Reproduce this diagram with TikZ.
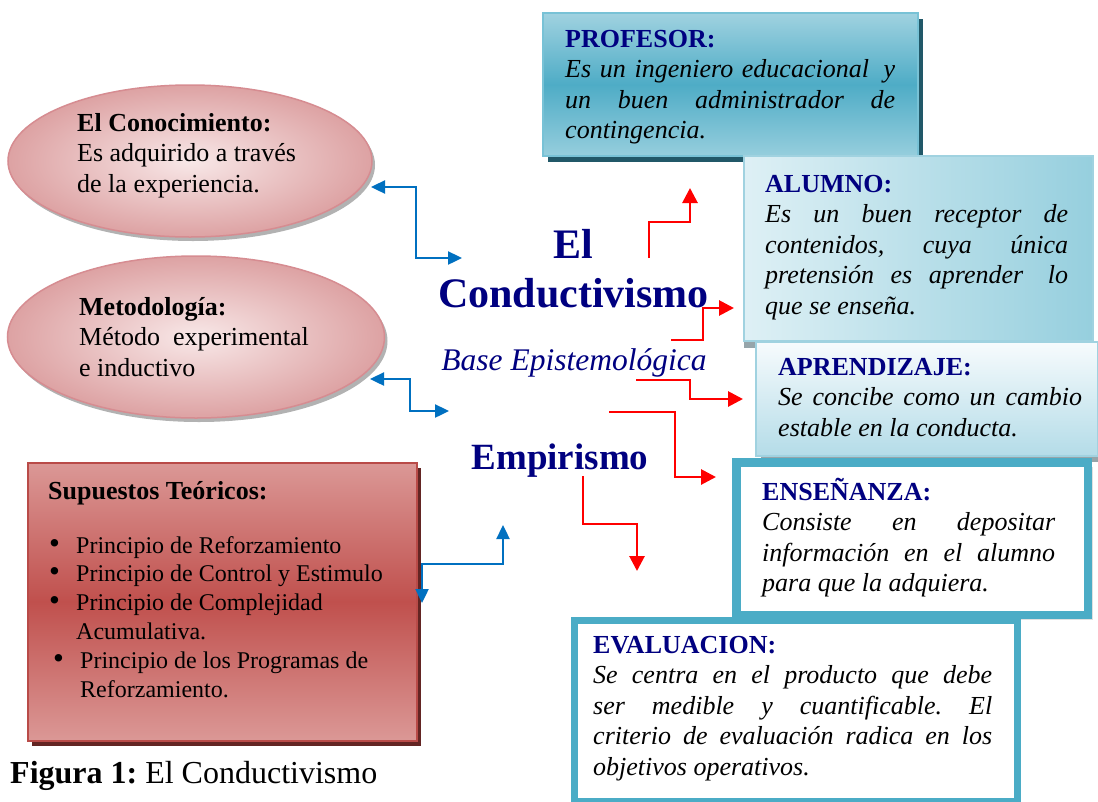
\documentclass[tikz,border=0pt]{standalone}
\usepackage{fontspec}
\setmainfont{Liberation Serif}
\usetikzlibrary{shapes.geometric,arrows.meta,shadows}
\definecolor{navyt}{RGB}{0,0,128}
\definecolor{tealb}{RGB}{75,172,198}
\definecolor{bluea}{RGB}{0,112,192}
\definecolor{pinkin}{RGB}{248,232,232}
\definecolor{pinkout}{RGB}{221,162,163}
\definecolor{pinkbd}{RGB}{214,140,145}
\definecolor{redtop}{RGB}{219,152,150}
\definecolor{redmid}{RGB}{192,80,77}
\definecolor{redbd}{RGB}{185,75,72}
\definecolor{redshadow}{RGB}{99,37,35}
\definecolor{profshadow}{RGB}{33,88,104}
\definecolor{proftop}{RGB}{160,210,224}
\definecolor{profmid}{RGB}{78,172,198}
\definecolor{profbot}{RGB}{150,206,221}
\definecolor{profbd}{RGB}{120,194,214}
\definecolor{alul}{RGB}{222,240,245}
\definecolor{alur}{RGB}{150,207,222}
\definecolor{aprtop}{RGB}{247,251,253}
\definecolor{aprbot}{RGB}{180,220,232}
\definecolor{lightbd}{RGB}{160,210,224}
\definecolor{greysh}{RGB}{150,165,170}
\newcommand{\jline}[2]{\makebox[#1][s]{\spaceskip=0.25em plus 20em\relax #2}}
\newcommand{\bul}{\makebox[27pt][l]{\fontsize{31}{28.8}\selectfont\textbullet}}
\begin{document}
\frenchspacing
\begin{tikzpicture}[x=1pt,y=-1pt,
  body/.style={anchor=base west, inner sep=0pt, align=justify, font=\fontsize{26}{30.5}\selectfont},
  bull/.style={anchor=base west, inner sep=0pt, align=justify, font=\fontsize{24}{28.8}\selectfont},
  boxn/.style={anchor=north west, inner sep=0pt, rectangle},
  ell/.style={ellipse, inner sep=0pt, draw=pinkbd, line width=1.5pt, inner color=pinkin, outer color=pinkout,
     general shadow={fill=black!30, shadow xshift=3pt, shadow yshift=-4pt}},
  title/.style={anchor=base, inner sep=0pt, text=navyt},
  barrow/.style={draw=bluea, line width=2.4pt, {Triangle[length=14pt,width=13pt]}-{Triangle[length=14pt,width=13pt]}},
  rarrow/.style={draw=red, line width=2.8pt, -{Triangle[length=15pt,width=15pt]}},
]
\useasboundingbox[fill=white] (0,0) rectangle (1098,801);

% ellipses
\node[ell, minimum width=364pt, minimum height=152pt] (conoc) at (190,161) {};
\node[ell, minimum width=377pt, minimum height=162pt] (meto) at (196,337) {};

% Supuestos box
\node[boxn, minimum width=389pt, minimum height=278pt, draw=redbd, line width=1.5pt,
  top color=redtop, bottom color=redtop, middle color=redmid,
  general shadow={fill=redshadow, shadow xshift=4pt, shadow yshift=-5pt}] (sup) at (27,462) {};

% right boxes
\node[boxn, minimum width=375pt, minimum height=143pt, draw=profbd, line width=2pt,
  top color=proftop, bottom color=profbot, middle color=profmid,
  general shadow={fill=profshadow, shadow xshift=5pt, shadow yshift=-6pt}] (prof) at (542,12) {};
\node[boxn, minimum width=349pt, minimum height=185pt, draw=lightbd, line width=2pt,
  left color=alul, right color=alur,
  general shadow={fill=greysh, shadow xshift=0pt, shadow yshift=-7pt}] (alu) at (743,155) {};
\node[boxn, minimum width=342pt, minimum height=114pt, draw=lightbd, line width=1.5pt,
  top color=aprtop, bottom color=aprbot,
  general shadow={fill=greysh, shadow xshift=5pt, shadow yshift=-6pt}] (apr) at (755,341) {};
\node[boxn, minimum width=352pt, minimum height=153pt, draw=tealb, line width=8pt, fill=white,
  general shadow={fill=black!12, shadow xshift=5pt, shadow yshift=-5pt}] (ens) at (732,458) {};
\draw[tealb, line width=2pt] ([shift={(7.5,7.5)}]ens.north west) rectangle ([shift={(-7.5,-7.5)}]ens.south east);
\node[boxn, minimum width=443pt, minimum height=181pt, draw=tealb, line width=7pt, fill=white] (eva) at (570.5,616.5) {};

% texts in ellipses
\node[body, text width=300pt] (conoct) at (77,131) {\textbf{El Conocimiento:}\\Es adquirido a través\\de la experiencia.};
\node[body, text width=300pt] (metot) at (79,315) {\textbf{Metodología:}\\Método\ \ experimental\\e inductivo};

% supuestos text
\node[body, text width=360pt] (supt) at (48,499) {\textbf{Supuestos Teóricos:}};
\node[bull, text width=370pt] (supl) at (49,553) {\bul Principio de Reforzamiento\\
\bul Principio de Control y Estimulo\\
\bul Principio de Complejidad\\
\hspace*{27pt}Acumulativa.\\
\hspace*{4pt}\bul Principio de los Programas de\\
\hspace*{31pt}Reforzamiento.};

% box texts
\node[body, text width=340pt] (proft) at (565,47) {{\bfseries\color{navyt}PROFESOR:}\\
\itshape\jline{330pt}{Es un ingeniero educacional\hspace{6pt} y}\\
\jline{330pt}{un buen administrador de}\\
contingencia.};
\node[body, text width=310pt] (alut) at (765,192) {{\bfseries\color{navyt}ALUMNO:}\\
\itshape\jline{303pt}{Es un buen receptor de}\\
\jline{303pt}{contenidos, cuya única}\\
\jline{303pt}{pretensión es aprender\hspace{8pt} lo}\\
que se enseña.};
\node[body, text width=310pt] (aprt) at (778,375) {{\bfseries\color{navyt}APRENDIZAJE:}\\
\itshape\jline{304pt}{Se concibe como un cambio}\\
estable en la conducta.};
\node[body, text width=300pt] (enst) at (762,500) {{\bfseries\color{navyt}ENSEÑANZA:}\\
\itshape\jline{293pt}{Consiste en depositar}\\
\jline{293pt}{información en el alumno}\\
para que la adquiera.};
\node[body, text width=405pt] (evat) at (593,653) {{\bfseries\color{navyt}EVALUACION:}\\
\itshape\jline{399pt}{Se centra en el producto que debe}\\
\jline{399pt}{ser medible y cuantificable. El}\\
\jline{399pt}{criterio de evaluación radica en los}\\
objetivos operativos.};

% central titles
\node[title, font=\fontsize{42}{48}\selectfont\bfseries] (el) at (573,258) {El};
\node[title, font=\fontsize{42}{48}\selectfont\bfseries] (cond) at (573.5,307) {Conductivismo};
\node[title, font=\fontsize{31.5}{36}\selectfont\itshape] (base) at (574,370) {Base Epistemológica};
\node[title, font=\fontsize{37}{42}\selectfont\bfseries] (emp) at (560,469) {Empirismo};

% caption
\node[anchor=base west, inner sep=0pt, font=\fontsize{32}{36}\selectfont] (cap) at (10,783) {\textbf{Figura 1:} El Conductivismo};

% blue connectors
\coordinate (b1a) at (371,187); \coordinate (b1b) at (462,258);
\draw[barrow] (b1a) -- (416,187) -- (416,258) -- (b1b);
\coordinate (b2a) at (370,379); \coordinate (b2b) at (449,411);
\draw[barrow] (b2a) -- (410,379) -- (410,411) -- (b2b);
\coordinate (b3a) at (503,525); \coordinate (b3b) at (422,603);
\draw[barrow] (b3a) -- (503,564) -- (422,564) -- (b3b);

% red connectors
\coordinate (r1a) at (649,258); \coordinate (r1b) at (690,188);
\draw[rarrow] (r1a) -- (649,222) -- (690,222) -- (r1b);
\coordinate (r2a) at (671,340); \coordinate (r2b) at (734,308);
\draw[rarrow] (r2a) -- (703,340) -- (703,308) -- (r2b);
\coordinate (r3a) at (636,380); \coordinate (r3b) at (743,399);
\draw[rarrow] (r3a) -- (690,380) -- (690,399) -- (r3b);
\coordinate (r4a) at (609,412); \coordinate (r4b) at (716,477);
\draw[rarrow] (r4a) -- (675,412) -- (675,477) -- (r4b);
\coordinate (r5a) at (583,476); \coordinate (r5b) at (637,571);
\draw[rarrow] (r5a) -- (583,524) -- (637,524) -- (r5b);
\end{tikzpicture}
\end{document}
